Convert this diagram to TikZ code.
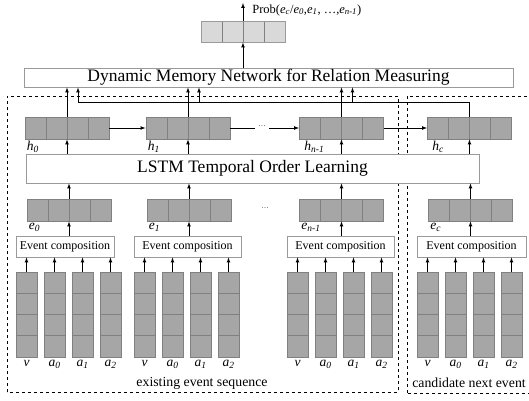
\documentclass[tikz,border=0pt]{standalone}
\usepackage{fontspec}
\setmainfont{Liberation Serif}
\usetikzlibrary{positioning,calc}

\definecolor{cellfill}{HTML}{A6A6A6}
\definecolor{celledge}{HTML}{808080}
\definecolor{outfill}{HTML}{D9D9D9}
\definecolor{boxedge}{HTML}{9A9A9A}

\newcommand{\itsub}[2]{\textit{#1}\textsubscript{\textit{#2}}}

\tikzset{
  hvec/.style={draw=celledge, fill=cellfill, line width=0.9pt, inner sep=0pt,
    minimum width=84, minimum height=22,
    path picture={\foreach \k in {1,2,3}{
      \draw[celledge, line width=0.9pt]
        ($(path picture bounding box.south west)!\k/4!(path picture bounding box.south east)$) --
        ($(path picture bounding box.north west)!\k/4!(path picture bounding box.north east)$);}}},
  outvec/.style={hvec, fill=outfill, draw=boxedge, minimum height=21},
  colvec/.style={draw=celledge, fill=cellfill, line width=0.9pt, inner sep=0pt,
    minimum width=21, minimum height=85,
    path picture={\foreach \k in {1,2,3}{
      \draw[celledge, line width=0.9pt]
        ($(path picture bounding box.south west)!\k/4!(path picture bounding box.north west)$) --
        ($(path picture bounding box.south east)!\k/4!(path picture bounding box.north east)$);}}},
  layerbox/.style={draw=boxedge, fill=white, line width=0.9pt, inner sep=1pt,
    font=\fontsize{17.5}{19}\selectfont},
  compbox/.style={draw=boxedge, fill=white, line width=0.9pt, inner sep=1pt,
    minimum width=107, minimum height=21, font=\fontsize{12}{13}\selectfont},
  lbl/.style={inner sep=1pt, font=\fontsize{13.5}{14}\selectfont},
  region/.style={dashed, line width=0.7pt},
  every path/.style={line width=0.7pt}
}

\begin{document}
\begin{tikzpicture}[x=1pt,y=1pt]
\useasboundingbox (0,0) rectangle (529,400);

% event sequence regions
\draw[region] (7,8) rectangle (398,304);
\draw[region] (407,7) rectangle (535,304);

% output
\node[outvec] (out) at (243,368.5) {};
\coordinate (prob) at (243,397);
\draw[-latex] (out.north) -- (prob);
\node[anchor=west, inner sep=0pt, font=\fontsize{12.5}{13}\selectfont] (problbl) at (252,390)
  {Prob(\itsub{e}{c}/\itsub{e}{0},\itsub{e}{1}, \dots,\itsub{e}{n-1})};

\node[layerbox, minimum width=489, minimum height=19] (dmn) at (268.5,322.5)
  {Dynamic Memory Network for Relation Measuring};
\draw[-latex] (dmn.north -| out) -- (out.south);

% hidden states
\node[hvec] (h0) at (67,272) {};
\node[hvec] (h1) at (188,272) {};
\node[font=\scriptsize] (hdots) at (262,274) {\dots};
\node[hvec] (hn) at (341.5,272) {};
\node[hvec] (hc) at (469.5,272) {};

\node[lbl, anchor=north west] (h0lbl) at ([xshift=1pt]h0.south west) {\itsub{h}{0}};
\node[lbl, anchor=north west] (h1lbl) at ([xshift=1pt]h1.south west) {\itsub{h}{1}};
\node[lbl, anchor=north west] (hnlbl) at ([xshift=4pt]hn.south west) {\itsub{h}{n-1}};
\node[lbl, anchor=north west] (hclbl) at ([xshift=4pt]hc.south west) {\itsub{h}{c}};

\draw[-latex] (h0) -- (h1);
\draw (h1.east) -- ([yshift=-2pt]hdots.west);
\draw[-latex] ([yshift=-2pt]hdots.east) -- (hn.west);
\draw[-latex] (hn) -- (hc);

\foreach \n in {h0,h1,hn}
  \draw[-latex] (\n.north) -- (\n.north |- dmn.south);

% candidate state into memory
\coordinate (fb) at (78,298);
\draw (hc.north) |- (fb);
\foreach \n in {h0,h1,hn}
  \draw[-latex] ($(\n.north |- fb)+(11,0)$) -- ($(\n.north |- dmn.south)+(11,0)$);

\node[layerbox, minimum width=453, minimum height=29] (lstm) at (252.5,231.5)
  {LSTM Temporal Order Learning};
\foreach \n in {h0,h1,hn,hc}
  \draw[-latex] (\n.south |- lstm.north) -- (\n.south);

% event embeddings
\node[hvec] (e0) at (69,190) {};
\node[hvec] (e1) at (189,190) {};
\node[font=\scriptsize] (edots) at (265,192) {\dots};
\node[hvec] (en) at (341.5,190) {};
\node[hvec] (ec) at (470.5,190) {};

\node[lbl, anchor=north west] (e0lbl) at ([xshift=1pt]e0.south west) {\itsub{e}{0}};
\node[lbl, anchor=north west] (e1lbl) at ([xshift=1pt]e1.south west) {\itsub{e}{1}};
\node[lbl, anchor=north west] (enlbl) at ([xshift=1pt]en.south west) {\itsub{e}{n-1}};
\node[lbl, anchor=north west] (eclbl) at ([xshift=1pt]ec.south west) {\itsub{e}{c}};

\foreach \n in {e0,e1,en,ec}
  \draw[-latex] (\n.north) -- (\n.north |- lstm.south);

% event composition
\node[compbox, minimum width=98] (comp0) at (65,153.5) {Event composition};
\node[compbox] (comp1) at (187.5,153.5) {Event composition};
\node[compbox] (compn) at (340.5,153.5) {Event composition};
\node[compbox, minimum width=109] (compc) at (471.5,153.5) {Event composition};

\draw[-latex] (comp0.north -| e0) -- (e0.south);
\draw[-latex] (comp1.north -| e1) -- (e1.south);
\draw[-latex] (compn.north -| en) -- (en.south);
\draw[-latex] (compc.north -| ec) -- (ec.south);

% verb and arguments
\foreach \g/\x in {0/16,1/134,n/287,c/417}{
  \foreach \i/\t in {0/{\textit{v}},1/{\itsub{a}{0}},2/{\itsub{a}{1}},3/{\itsub{a}{2}}}{
    \node[colvec] (col\g\i) at ({\x+10.5+28*\i},85.5) {};
    \node[lbl, below=1pt of col\g\i] (lab\g\i) {\t};
    \draw[-latex] (col\g\i.north) -- (col\g\i.north |- comp\g.south);
  }
}

\node[font=\fontsize{13.8}{15}\selectfont] (exist) at (202,17) {existing event sequence};
\node[font=\fontsize{13.8}{15}\selectfont] (cand) at (469,17) {candidate next event};
\end{tikzpicture}
\end{document}
